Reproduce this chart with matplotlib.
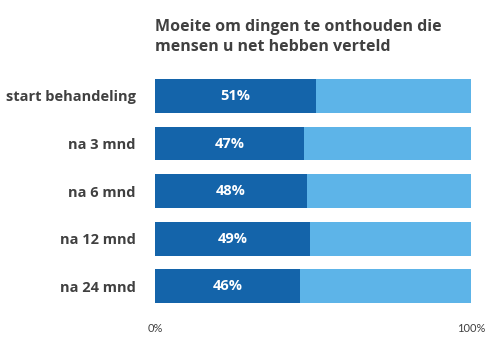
import matplotlib
matplotlib.use("Agg")
import matplotlib.pyplot as plt

categories = ["start behandeling", "na 3 mnd", "na 6 mnd", "na 12 mnd", "na 24 mnd"]
values = [51, 47, 48, 49, 46]
title = "Moeite om dingen te onthouden die\nmensen u net hebben verteld"
xtick_labels = ["0%", "100%"]

dark = "#1464aa"
light = "#5db4e8"
textc = "#404040"

fig = plt.figure(figsize=(5, 3.42), dpi=100)
ax = fig.add_axes([0.31, 0.093, 0.632, 0.696])

pos = list(range(len(categories)))
rest = [100 - v for v in values]
ax.barh(pos, values, height=0.71, color=dark, linewidth=0)
ax.barh(pos, rest, left=values, height=0.71, color=light, linewidth=0)
for p, v in zip(pos, values):
    ax.text(v / 2, p, f"{v}%", ha="center", va="center", color="white",
            fontsize=10.5, fontweight="bold", family="Open Sans")

ax.set_xlim(0, 100)
ax.set_ylim(len(categories) - 0.5, -0.5)
ax.set_yticks(pos)
ax.set_yticklabels(categories, fontsize=10.5, fontweight="bold", color=textc, family="Open Sans")
ax.set_xticks([0, 100])
ax.set_xticklabels(xtick_labels, fontsize=8, color=textc, family="Lato")
ax.tick_params(axis="both", length=0)
ax.tick_params(axis="y", pad=14)
ax.tick_params(axis="x", pad=9)
for s in ax.spines.values():
    s.set_visible(False)

fig.text(0.31, 0.945, title, ha="left", va="top", fontsize=11.5, fontweight="bold",
         color=textc, family="Open Sans", linespacing=1.35)

fig.savefig("out.png", dpi=100)
